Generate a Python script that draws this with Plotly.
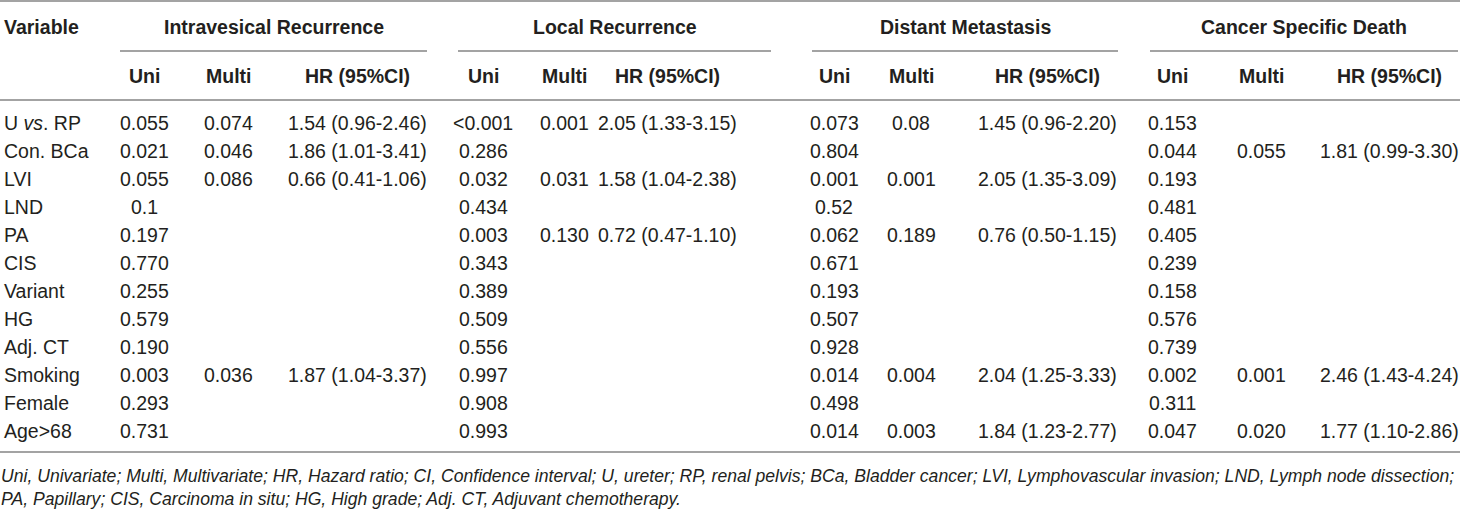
import plotly.graph_objects as go

# ---------------- data ----------------
variables = ["U <i>vs</i>. RP", "Con. BCa", "LVI", "LND", "PA", "CIS", "Variant",
             "HG", "Adj. CT", "Smoking", "Female", "Age&gt;68"]

groups = ["Intravesical Recurrence", "Local Recurrence", "Distant Metastasis",
          "Cancer Specific Death"]
subheaders = ["Uni", "Multi", "HR (95%CI)"]

ir_uni = ["0.055", "0.021", "0.055", "0.1", "0.197", "0.770", "0.255", "0.579", "0.190", "0.003", "0.293", "0.731"]
ir_multi = ["0.074", "0.046", "0.086", "", "", "", "", "", "", "0.036", "", ""]
ir_hr = ["1.54 (0.96-2.46)", "1.86 (1.01-3.41)", "0.66 (0.41-1.06)", "", "", "", "", "", "",
         "1.87 (1.04-3.37)", "", ""]

lr_uni = ["&lt;0.001", "0.286", "0.032", "0.434", "0.003", "0.343", "0.389", "0.509", "0.556", "0.997", "0.908", "0.993"]
lr_multi = ["0.001", "", "0.031", "", "0.130", "", "", "", "", "", "", ""]
lr_hr = ["2.05 (1.33-3.15)", "", "1.58 (1.04-2.38)", "", "0.72 (0.47-1.10)", "", "", "", "", "", "", ""]

dm_uni = ["0.073", "0.804", "0.001", "0.52", "0.062", "0.671", "0.193", "0.507", "0.928", "0.014", "0.498", "0.014"]
dm_multi = ["0.08", "", "0.001", "", "0.189", "", "", "", "", "0.004", "", "0.003"]
dm_hr = ["1.45 (0.96-2.20)", "", "2.05 (1.35-3.09)", "", "0.76 (0.50-1.15)", "", "", "", "",
         "2.04 (1.25-3.33)", "", "1.84 (1.23-2.77)"]

csd_uni = ["0.153", "0.044", "0.193", "0.481", "0.405", "0.239", "0.158", "0.576", "0.739", "0.002", "0.311", "0.047"]
csd_multi = ["", "0.055", "", "", "", "", "", "", "", "0.001", "", "0.020"]
csd_hr = ["", "1.81 (0.99-3.30)", "", "", "", "", "", "", "", "2.46 (1.43-4.24)", "", "1.77 (1.10-2.86)"]

footnotes = [
    "Uni, Univariate; Multi, Multivariate; HR, Hazard ratio; CI, Confidence interval; U, ureter; RP, renal pelvis; "
    "BCa, Bladder cancer; LVI, Lymphovascular invasion; LND, Lymph node dissection;",
    "PA, Papillary; CIS, Carcinoma in situ; HG, High grade; Adj. CT, Adjuvant chemotherapy.",
]

columns = [ir_uni, ir_multi, ir_hr, lr_uni, lr_multi, lr_hr,
           dm_uni, dm_multi, dm_hr, csd_uni, csd_multi, csd_hr]

# ---------------- layout (pixel space) ----------------
W, H = 1460, 509
FONT = "Liberation Sans"
TXT = "#231f20"
LINE = "#a3a3a3"
FS = 19.5
FS_FOOT = 17.6

col_x = [144, 228, 357, 483, 564, 667, 834, 911, 1047, 1172, 1261, 1389]
group_span = [(120, 427), (458, 771), (812, 1118), (1150, 1458)]
y_title, y_underline, y_sub, y_headline = 27, 51, 76, 100
row_y0, row_dy = 123, 28
y_bottom = 452
foot_y = [476, 499]

fig = go.Figure()
ann = []
shapes = []

def hline(x0, x1, y):
    shapes.append(dict(type="line", xref="x", yref="y", x0=x0, x1=x1, y0=y, y1=y,
                       line=dict(color=LINE, width=2)))

hline(0, W, 1)
hline(0, W, y_headline)
hline(0, W, y_bottom)
for (a, b) in group_span:
    hline(a, b, y_underline)

# header
ann.append(dict(x=3, y=y_title, text="<b>Variable</b>", xanchor="left", yanchor="middle",
                font=dict(family=FONT, size=FS, color=TXT)))
for g, (a, b) in zip(groups, group_span):
    ann.append(dict(x=(a + b) / 2, y=y_title, text=f"<b>{g}</b>", xanchor="center", yanchor="middle",
                    font=dict(family=FONT, size=FS, color=TXT)))
for i, cx in enumerate(col_x):
    ann.append(dict(x=cx, y=y_sub, text=f"<b>{subheaders[i % 3]}</b>", xanchor="center", yanchor="middle",
                    font=dict(family=FONT, size=FS, color=TXT)))

# body
for r, v in enumerate(variables):
    y = row_y0 + r * row_dy
    ann.append(dict(x=3, y=y, text=v, xanchor="left", yanchor="middle",
                    font=dict(family=FONT, size=FS, color=TXT)))
    for cx, col in zip(col_x, columns):
        if col[r]:
            ann.append(dict(x=cx, y=y, text=col[r], xanchor="center", yanchor="middle",
                            font=dict(family=FONT, size=FS, color=TXT)))

for fy, ft in zip(foot_y, footnotes):
    ann.append(dict(x=0, y=fy, text=f"<i>{ft}</i>", xanchor="left", yanchor="middle",
                    font=dict(family=FONT, size=FS_FOOT, color=TXT)))

for a in ann:
    a.update(xref="x", yref="y", showarrow=False, borderpad=0)

fig.update_layout(
    width=W, height=H,
    margin=dict(l=0, r=0, t=0, b=0),
    paper_bgcolor="white", plot_bgcolor="white",
    xaxis=dict(range=[0, W], visible=False, fixedrange=True),
    yaxis=dict(range=[H, 0], visible=False, fixedrange=True),
    annotations=ann, shapes=shapes, showlegend=False,
)

fig.write_html("out.html", config={"displayModeBar": False},
               post_script="document.body.style.margin='0';document.body.style.overflow='hidden';")
